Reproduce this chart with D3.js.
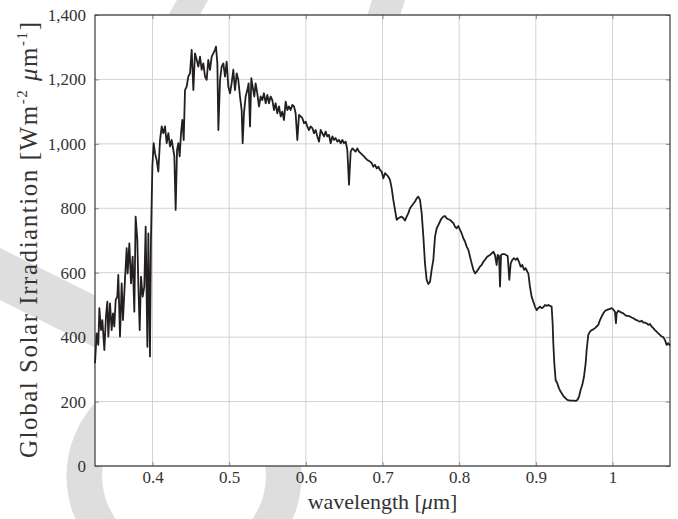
<!DOCTYPE html>
<html>
<head>
<meta charset="utf-8">
<script src="https://cdn.jsdelivr.net/npm/d3@7"></script>
<style>
  body { margin: 0; background: #fff; }
  svg { display: block; font-family: "Liberation Serif", "DejaVu Serif", serif; }
</style>
</head>
<body>
<div id="chart-area"></div>
<script>
// wavelength in micrometres
const wavelength = [
  0.325, 0.3272, 0.3293, 0.3307, 0.3328, 0.3346, 0.3372, 0.3393, 0.3411, 0.3424,
  0.3446, 0.3467, 0.3485, 0.3502, 0.3520, 0.3541, 0.3554, 0.3576, 0.3598, 0.3615,
  0.3641, 0.3663, 0.3676, 0.3698, 0.3720, 0.3741, 0.3763, 0.3780, 0.3802, 0.3815,
  0.3833, 0.3850, 0.3872, 0.3893, 0.3911, 0.3933, 0.3946, 0.3967, 0.3980, 0.3998,
  0.4015, 0.4033, 0.4054, 0.4076, 0.4098, 0.4120, 0.4141, 0.4163, 0.4185, 0.4207,
  0.4228, 0.4250, 0.4272, 0.4285, 0.4302, 0.4320, 0.4337, 0.4354, 0.4372, 0.4389,
  0.4407,
  0.4424, 0.4446, 0.4467, 0.4489, 0.4511, 0.4533, 0.4554, 0.4576, 0.4598, 0.4620,
  0.4641, 0.4663, 0.4685, 0.4707, 0.4728, 0.4750, 0.4772, 0.4793, 0.4815, 0.4828,
  0.4846, 0.4859, 0.4881, 0.4902,
  0.4924, 0.4946, 0.4967, 0.4989, 0.5011, 0.5032, 0.5054, 0.5076, 0.5098, 0.5119,
  0.5141, 0.5163, 0.5176, 0.5193, 0.5215, 0.5237, 0.5254, 0.5272, 0.5289, 0.5306,
  0.5328, 0.5345, 0.5367, 0.5389, 0.5411, 0.5432, 0.5454, 0.5476, 0.5498, 0.5519,
  0.5541, 0.5563, 0.5585, 0.5606, 0.5628, 0.5650, 0.5672, 0.5693, 0.5715, 0.5737,
  0.5759, 0.5780, 0.5802, 0.5824, 0.5846, 0.5867, 0.5889, 0.5911, 0.5933, 0.5954,
  0.5976, 0.5998, 0.6019, 0.6041, 0.6063, 0.6085, 0.6106, 0.6128, 0.6150, 0.6172,
  0.6193, 0.6215, 0.6237, 0.6259, 0.6280, 0.6302, 0.6324, 0.6346, 0.6367, 0.6389,
  0.6411, 0.6433, 0.6454, 0.6476, 0.6498, 0.6520, 0.6541, 0.6563, 0.6585, 0.6607,
  0.6628, 0.6650, 0.6672, 0.6693, 0.6715, 0.6737, 0.6759, 0.6780, 0.6802,
  0.6837, 0.6859, 0.6880, 0.6902, 0.6924, 0.6946, 0.6967, 0.6989, 0.7011, 0.7033,
  0.7054, 0.7076, 0.7098, 0.7120, 0.7141, 0.7163, 0.7185, 0.7207, 0.7228, 0.7250,
  0.7272, 0.7293, 0.7315, 0.7337, 0.7359, 0.7380, 0.7402, 0.7424, 0.7446, 0.7467,
  0.7489, 0.7511, 0.7533, 0.7554, 0.7576, 0.7598, 0.7620, 0.7641, 0.7663, 0.7685,
  0.7707, 0.7728, 0.7750, 0.7772, 0.7793, 0.7815, 0.7837, 0.7859, 0.7880, 0.7902,
  0.7924, 0.7946, 0.7967, 0.7989, 0.8011, 0.8033, 0.8054, 0.8076, 0.8098, 0.8120,
  0.8141, 0.8163, 0.8185, 0.8207, 0.8228, 0.8250, 0.8272, 0.8293, 0.8315, 0.8337,
  0.8359, 0.8380, 0.8402, 0.8424, 0.8446, 0.8467, 0.8489, 0.8502, 0.8520, 0.8533,
  0.8546, 0.8567, 0.8589, 0.8611, 0.8633, 0.8654, 0.8672, 0.8693, 0.8715, 0.8737,
  0.8759, 0.8780, 0.8802, 0.8824, 0.8846, 0.8867, 0.8889,
  0.8902, 0.8923, 0.8945, 0.8967, 0.8989, 0.9010, 0.9032, 0.9054, 0.9076, 0.9097,
  0.9119, 0.9141, 0.9163, 0.9184, 0.9206, 0.9219, 0.9228, 0.9241, 0.9258, 0.9280,
  0.9302, 0.9323, 0.9345, 0.9367, 0.9389, 0.9410, 0.9432, 0.9454, 0.9476, 0.9497,
  0.9519, 0.9541, 0.9563, 0.9584, 0.9606, 0.9628, 0.9650, 0.9663, 0.9684, 0.9706,
  0.9728, 0.9750, 0.9771, 0.9793, 0.9815, 0.9837, 0.9858, 0.9880, 0.9902, 0.9923,
  0.9945, 0.9967, 0.9989, 1.0010, 1.0032, 1.0045, 1.0054, 1.0076, 1.0097, 1.0119,
  1.0141, 1.0163, 1.0184, 1.0206, 1.0228, 1.0250, 1.0271, 1.0293, 1.0315, 1.0337,
  1.0358, 1.0380, 1.0402, 1.0423, 1.0445, 1.0467, 1.0489, 1.0510, 1.0532, 1.0554,
  1.0576, 1.0597, 1.0619, 1.0641, 1.0663, 1.0684, 1.0706, 1.0728, 1.0750
]

// global solar irradiance, W m^-2 um^-1
const irradiance = [
  319, 412, 376, 490, 422, 453, 360, 464, 510, 402,
  505, 422, 474, 433, 515, 526, 593, 402, 567, 453,
  578, 676, 598, 691, 567, 650, 479, 774, 702, 567,
  422, 588, 526, 557, 743, 370, 722, 340, 702, 929,
  1002, 971, 950, 914, 1012, 1054, 1033, 1054, 1002, 1033,
  992, 1012, 981, 961, 795, 981, 1002, 961, 1033, 1074,
  1012,
  1167, 1178, 1209, 1219, 1292, 1167, 1281, 1261, 1240, 1271,
  1230, 1250, 1209, 1199, 1261, 1230, 1271, 1281, 1292, 1302,
  1250, 1043, 1199, 1240,
  1250, 1209, 1255, 1178, 1157, 1188, 1230, 1167, 1219, 1199,
  1147, 1105, 1002, 1095, 1147, 1167, 1188, 1054, 1204, 1178,
  1147, 1188, 1157, 1116, 1147, 1136, 1157, 1126, 1152, 1126,
  1147, 1136, 1105, 1126, 1095, 1116, 1085, 1100, 1074, 1131,
  1105, 1116, 1105, 1121, 1116, 1095, 1012, 1090, 1085, 1080,
  1064, 1069, 1054, 1043, 1054, 1049, 1033, 1043, 1023, 1007,
  1043, 1033, 1023, 1038, 1023, 1028, 1002, 1023, 1012, 1018,
  1007, 1012, 1002, 1012, 1002, 1007, 981, 873, 976, 986,
  981, 976, 986, 976, 971, 966, 961, 955, 950,
  945, 940, 929, 935, 924, 929, 919, 914, 893, 909,
  904, 898, 888, 862, 826, 795, 764, 769, 772, 774,
  769, 762, 774, 785, 800, 807, 814, 821, 831, 836,
  826, 785, 712, 629, 578, 565, 572, 609, 640, 712,
  738, 748, 759, 769, 774, 776, 769, 766, 764, 759,
  754, 743, 738, 745, 733, 722, 707, 697, 681, 671,
  650, 629, 609, 598, 603, 611, 619, 624, 634, 640,
  648, 652, 655, 660, 665, 655, 624, 655, 652, 557,
  655, 658, 658, 655, 652, 578, 629, 640, 645, 640,
  645, 634, 619, 624, 609, 614, 603,
  598, 557, 526, 510, 495, 484, 490, 495, 490, 493,
  500, 497, 500, 497, 495, 443, 381, 319, 267, 257,
  241, 231, 223, 215, 210, 205, 204, 203, 203, 203,
  202, 205, 215, 236, 252, 277, 319, 360, 407, 417,
  422, 424, 428, 433, 438, 453, 464, 474, 481, 484,
  486, 488, 490, 486, 479, 443, 474, 482, 479, 476,
  474, 469, 466, 466, 464, 461, 459, 455, 453, 450,
  448, 451, 445, 445, 443, 438, 441, 433, 428, 422,
  417, 412, 407, 402, 400, 391, 376, 381, 373
]

const xTicks = [0.4, 0.5, 0.6, 0.7, 0.8, 0.9, 1.0]
const yTicks = [0, 200, 400, 600, 800, 1000, 1200, 1400]

const MARGIN = {LEFT: 95, RIGHT: 8, TOP: 15, BOTTOM: 53}
const WIDTH = 678 - MARGIN.LEFT - MARGIN.RIGHT
const HEIGHT = 519 - MARGIN.TOP - MARGIN.BOTTOM

const svg = d3.select("#chart-area").append("svg")
  .attr("width", 678)
  .attr("height", 519)

// light grey watermark behind the axes
const wm = svg.append("g").attr("fill", "#dedede")
wm.append("path").attr("d", "M177,0 L208,0 L196,22 L164,22 Z")
wm.append("path").attr("d", "M372,0 L405,0 L398,22 L365,22 Z")
wm.append("path").attr("d", "M0,248 L100,298 L100,350 L0,300 Z")
wm.append("path")
  .attr("transform", "translate(184,476) scale(1.05,1)")
  .attr("d", d3.arc().innerRadius(78).outerRadius(112).startAngle(-Math.PI).endAngle(Math.PI)())

const g = svg.append("g")
  .attr("transform", `translate(${MARGIN.LEFT}, ${MARGIN.TOP})`)

g.append("rect")
  .attr("width", WIDTH)
  .attr("height", HEIGHT)
  .attr("fill", "#fff")

const x = d3.scaleLinear()
  .domain([0.325, 1.075])
  .range([0, WIDTH])

const y = d3.scaleLinear()
  .domain([0, 1400])
  .range([HEIGHT, 0])

// grid
g.append("g").selectAll("line").data(xTicks).enter().append("line")
  .attr("x1", d => x(d)).attr("x2", d => x(d))
  .attr("y1", 0).attr("y2", HEIGHT)
  .attr("stroke", "#d2d2d2")
g.append("g").selectAll("line").data(yTicks).enter().append("line")
  .attr("x1", 0).attr("x2", WIDTH)
  .attr("y1", d => y(d)).attr("y2", d => y(d))
  .attr("stroke", "#d2d2d2")

// axes with inward ticks, pgfplots style
const xAxisCall = d3.axisBottom(x)
  .tickValues(xTicks)
  .tickSizeInner(-4)
  .tickSizeOuter(0)
  .tickPadding(5)
  .tickFormat(d => d === 1 ? "1" : d3.format(".1f")(d))

g.append("g")
  .attr("class", "x axis")
  .attr("transform", `translate(0, ${HEIGHT})`)
  .call(xAxisCall)

const yAxisCall = d3.axisLeft(y)
  .tickValues(yTicks)
  .tickSizeInner(-4)
  .tickSizeOuter(0)
  .tickPadding(9)
  .tickFormat(d3.format(","))

g.append("g")
  .attr("class", "y axis")
  .call(yAxisCall)

g.append("g")
  .call(d3.axisTop(x).tickValues(xTicks).tickSizeInner(-4).tickSizeOuter(0).tickFormat(""))
g.append("g")
  .attr("transform", `translate(${WIDTH}, 0)`)
  .call(d3.axisRight(y).tickValues(yTicks).tickSizeInner(-4).tickSizeOuter(0).tickFormat(""))

g.selectAll(".tick line").attr("stroke", "#8a8a8a")
g.selectAll(".domain").remove()
g.selectAll(".tick text")
  .attr("font-family", "Liberation Serif, serif")
  .attr("font-size", "17px")
  .attr("fill", "#333")

// frame
g.append("rect")
  .attr("width", WIDTH)
  .attr("height", HEIGHT)
  .attr("fill", "none")
  .attr("stroke", "#3a3a3a")
  .attr("stroke-width", 1.2)

// spectrum
const line = d3.line()
  .x((d, i) => x(wavelength[i]))
  .y(d => y(d))

g.append("path")
  .datum(irradiance)
  .attr("d", line)
  .attr("fill", "none")
  .attr("stroke", "#231f20")
  .attr("stroke-width", 1.8)
  .attr("stroke-linejoin", "round")

// x-label
svg.append("text")
  .attr("x", MARGIN.LEFT + WIDTH / 2)
  .attr("y", 509)
  .attr("text-anchor", "middle")
  .attr("font-size", "22px")
  .attr("fill", "#333")
  .html('wavelength [<tspan font-style="italic">μ</tspan>m]')

// y-label
svg.append("text")
  .attr("transform", `translate(37, 240) rotate(-90)`)
  .attr("text-anchor", "middle")
  .attr("font-size", "25px")
  .attr("fill", "#333")
  .attr("textLength", 436)
  .html('Global Solar Irradiantion [Wm<tspan font-size="15px" dy="-10">-2</tspan><tspan dy="10"> </tspan><tspan font-style="italic">μ</tspan>m<tspan font-size="15px" dy="-10">-1</tspan><tspan dy="10">]</tspan>')
</script>
</body>
</html>
